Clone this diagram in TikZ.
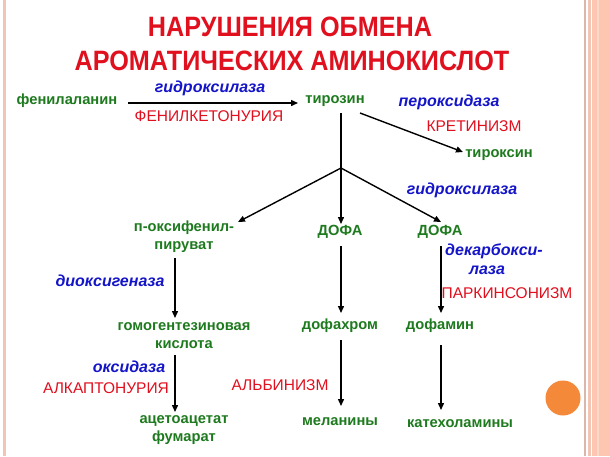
\documentclass[tikz,border=0pt]{standalone}
\usepackage{fontspec}
\setmainfont{Liberation Sans}
\usetikzlibrary{arrows.meta,calc}
\definecolor{tred}{HTML}{E0101E}
\definecolor{tgreen}{HTML}{1E7A1E}
\definecolor{tblue}{HTML}{1414C8}
\definecolor{band}{HTML}{FDC6B0}
\definecolor{bandline}{HTML}{F2C4B6}
\definecolor{dot}{HTML}{F5893A}
\tikzset{
  sub/.style={text=tgreen,font=\fontsize{14.7}{18}\selectfont\bfseries,inner sep=0pt,align=center},
  enz/.style={text=tblue,font=\fontsize{16}{19}\selectfont\bfseries\itshape,inner sep=0pt,align=center},
  dis/.style={text=tred,font=\fontsize{15.5}{18}\selectfont,inner sep=0pt},
  ttl/.style={text=tred,font=\fontsize{28}{32}\selectfont\bfseries,inner sep=0pt},
  arr/.style={-{Triangle[length=7pt,width=6pt]},line width=1.4pt,black},
  ln/.style={line width=1.4pt,black}
}
\begin{document}
\begin{tikzpicture}[x=1pt,y=-1pt]
\useasboundingbox (0,0) rectangle (610,456);
\fill[white] (0,0) rectangle (610,456);
% frame
\fill[bandline] (3,0) rectangle (5.5,456);
\fill[bandline!80!gray] (584,0) rectangle (585.5,456);
\fill[bandline] (588,0) rectangle (591,456);
\fill[band] (592,0) rectangle (610,456);
\fill[band!70!white] (597,0) rectangle (599,456);
\fill[dot] (563,398) circle (17.5);
% title
\node[ttl] (t1) at (290,27) {\scalebox{0.9}[1]{НАРУШЕНИЯ ОБМЕНА}};
\node[ttl] (t2) at (292,61) {\scalebox{0.9}[1]{АРОМАТИЧЕСКИХ АМИНОКИСЛОТ}};
% substances
\node[sub] (phe) at (67,101) {фенилаланин};
\node[sub] (tyr) at (335,101) {тирозин};
\node[sub] (thy) at (499,155) {тироксин};
\node[sub] (poh) at (184,237) {п-оксифенил-\\пируват};
\node[sub] (dopa1) at (340,232) {ДОФА};
\node[sub] (dopa2) at (440,232) {ДОФА};
\node[sub] (hga) at (184,336) {гомогентезиновая\\кислота};
\node[sub] (dch) at (340,326) {дофахром};
\node[sub] (dam) at (440,326) {дофамин};
\node[sub] (aca) at (184,430) {ацетоацетат\\фумарат};
\node[sub] (mel) at (340,422) {меланины};
\node[sub] (cat) at (460,424) {катехоламины};
% enzymes / diseases
\node[enz] (e1) at (210,88) {гидроксилаза};
\node[dis] (d1) at (209,116) {ФЕНИЛКЕТОНУРИЯ};
\node[enz] (e2) at (449,102) {пероксидаза};
\node[dis] (d2) at (474,126) {КРЕТИНИЗМ};
\node[enz] (e3) at (462,190) {гидроксилаза};
\node[enz] (e4) at (110,281) {диоксигеназа};
\node[enz] (e5) at (494,259) {декарбокси-\\\hspace*{-14pt}лаза};
\node[dis] (d5) at (507,293) {ПАРКИНСОНИЗМ};
\node[enz] (e6) at (129,367) {оксидаза};
\node[dis] (d6) at (106,388) {АЛКАПТОНУРИЯ};
\node[dis] (d7) at (280,385) {АЛЬБИНИЗМ};
% connectors
\coordinate (j) at (341,168);
\coordinate (tyrb) at (341,113);
\coordinate (tyrr) at (360,113);
\coordinate (a0) at (128,103);
\coordinate (a1) at (298,103);
\draw[arr] (a0) -- (a1);
\draw[ln] (tyrb) -- (j);
\draw[arr] (tyrr) -- (463,152);
\draw[arr] (j) -- (238,222) coordinate (c1);
\draw[arr] (j) -- (341,224);
\draw[arr] (j) -- (441,222) coordinate (c2);
\draw[arr] (175,258) coordinate (p1) -- (175,318) coordinate (p2);
\draw[arr] (175,355) coordinate (p3) -- (175,412) coordinate (p4);
\draw[arr] (341,246) coordinate (m1) -- (341,313) coordinate (m2);
\draw[arr] (341,340) coordinate (m3) -- (341,406) coordinate (m4);
\draw[arr] (441,246) coordinate (r1) -- (441,313) coordinate (r2);
\draw[arr] (441,345) coordinate (r3) -- (441,410) coordinate (r4);
\end{tikzpicture}
\end{document}
